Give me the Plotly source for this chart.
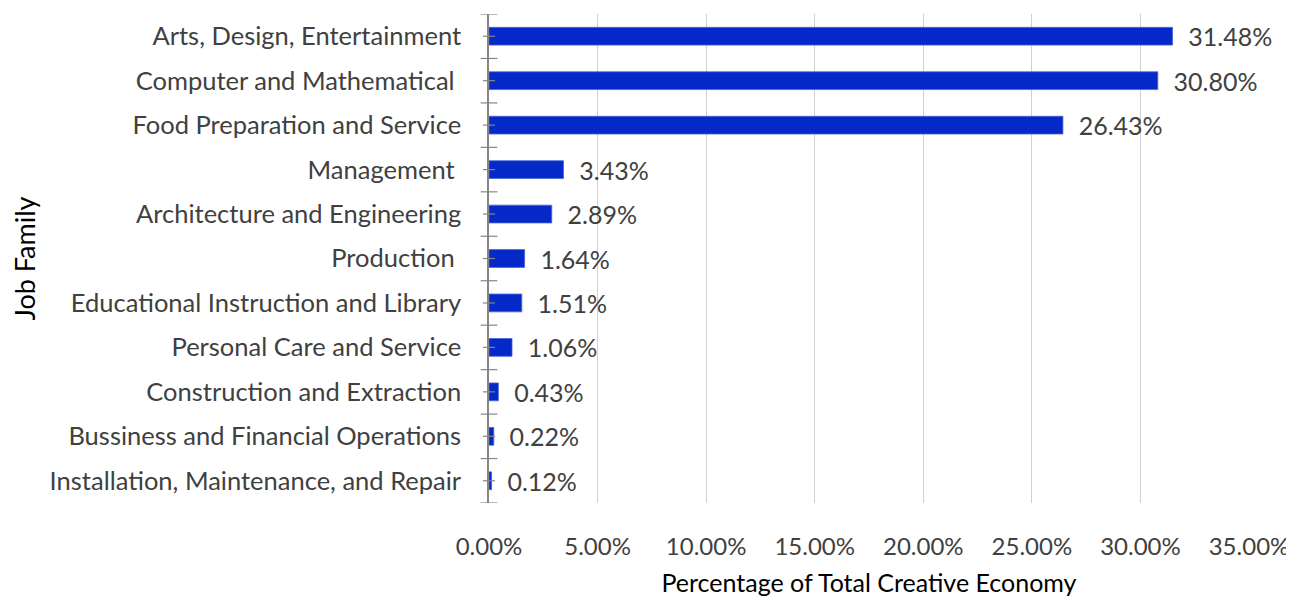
import plotly.graph_objects as go

categories = [
    "Arts, Design, Entertainment",
    "Computer and Mathematical ",
    "Food Preparation and Service",
    "Management ",
    "Architecture and Engineering",
    "Production ",
    "Educational Instruction and Library",
    "Personal Care and Service",
    "Construction and Extraction",
    "Bussiness and Financial Operations",
    "Installation, Maintenance, and Repair",
]
values = [31.48, 30.80, 26.43, 3.43, 2.89, 1.64, 1.51, 1.06, 0.43, 0.22, 0.12]
x_ticks = [0, 5, 10, 15, 20, 25, 30, 35]
x_tick_labels = ["0.00%", "5.00%", "10.00%", "15.00%", "20.00%", "25.00%", "30.00%", "35.00%"]

FONT = "Lato"
GRAY = "#404040"
AXIS = "#868686"
FS = 25.5

fig = go.Figure(go.Bar(
    x=values, y=categories, orientation="h",
    marker=dict(color="#0528C8", line=dict(color="#4a64d8", width=0.8)),
    texttemplate="  %{x:.2f}%", textposition="outside", constraintext="none",
    textfont=dict(family=FONT, size=25, color=GRAY),
    cliponaxis=False,
))

shapes = []
n = len(categories)
# crossing tick marks at category boundaries and centres (Excel style)
for i in range(n + 1):
    b = i - 0.5
    shapes.append(dict(type="line", xref="paper", yref="y", x0=-0.011, x1=0.011,
                       y0=b, y1=b, line=dict(color=AXIS, width=1.2)))
for i in range(n):
    shapes.append(dict(type="line", xref="paper", yref="y", x0=-0.008, x1=0.008,
                       y0=i, y1=i, line=dict(color=AXIS, width=1.2)))

fig.update_layout(
    width=1294, height=600,
    margin=dict(l=481, r=53, t=6, b=105),
    plot_bgcolor="white", paper_bgcolor="white",
    bargap=0.6,
    showlegend=False,
    shapes=shapes,
    font=dict(family=FONT, size=FS, color=GRAY),
)
fig.update_xaxes(
    range=[0, 35], tickvals=x_ticks, ticktext=x_tick_labels,
    showgrid=True, gridcolor="#d0d0d0", gridwidth=1.2,
    zeroline=False, showline=False, ticks="",
    ticklabelstandoff=27, automargin=False,
    tickfont=dict(family=FONT, size=24, color=GRAY),
    title=dict(text="Percentage of Total Creative Economy",
               font=dict(family=FONT, size=25, color="black")),
)
fig.update_yaxes(
    autorange=False, range=[n - 0.5, -0.5],
    showline=True, linecolor=AXIS, linewidth=1.5, ticks="",
    ticklabelstandoff=21, automargin=True,
    tickfont=dict(family=FONT, size=FS, color=GRAY),
    title=dict(text="Job Family", font=dict(family=FONT, size=27, color="black"),
               standoff=8),
)

fig.write_html("out.html")
